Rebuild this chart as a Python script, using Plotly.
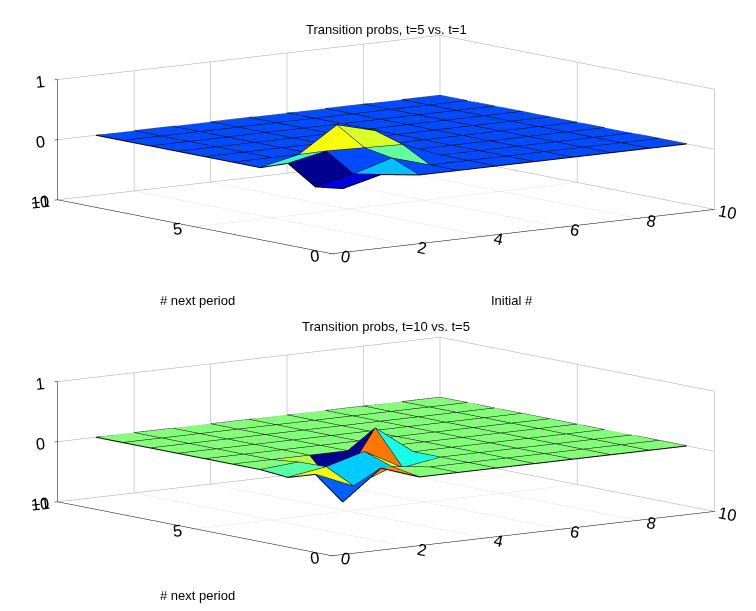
import plotly.graph_objects as go

# grid indices (columns = initial #, rows = # next period)
initial_idx = [1, 2, 3, 4, 5, 6, 7, 8, 9, 10]
next_idx = [1, 2, 3, 4, 5, 6, 7, 8, 9, 10]

# difference in transition probs, t=5 vs t=1 (row = next period, col = initial)
diff_5_1 = [
    [-0.08, 0.08, 0.00, 0.00, 0, 0, 0, 0, 0, 0],
    [-0.14, 0.00, 0.19, 0.00, 0, 0, 0, 0, 0, 0],
    [0.16, 0.29, 0.27, 0.25, 0, 0, 0, 0, 0, 0],
    [0.00, 0.14, 0.56, 0.39, 0, 0, 0, 0, 0, 0],
    [0, 0, 0, 0, 0, 0, 0, 0, 0, 0],
    [0, 0, 0, 0, 0, 0, 0, 0, 0, 0],
    [0, 0, 0, 0, 0, 0, 0, 0, 0, 0],
    [0, 0, 0, 0, 0, 0, 0, 0, 0, 0],
    [0, 0, 0, 0, 0, 0, 0, 0, 0, 0],
    [0, 0, 0, 0, 0, 0, 0, 0, 0, 0],
]

# difference in transition probs, t=10 vs t=5
diff_10_5 = [
    [-0.27, 0.22, 0.00, 0.00, 0, 0, 0, 0, 0, 0],
    [0.10, -0.17, 0.08, 0.00, 0, 0, 0, 0, 0, 0],
    [-0.04, 0.06, 0.24, -0.10, 0, 0, 0, 0, 0, 0],
    [0.00, 0.05, -0.48, 0.47, 0, 0, 0, 0, 0, 0],
    [0, 0, 0, 0, 0, 0, 0, 0, 0, 0],
    [0, 0, 0, 0, 0, 0, 0, 0, 0, 0],
    [0, 0, 0, 0, 0, 0, 0, 0, 0, 0],
    [0, 0, 0, 0, 0, 0, 0, 0, 0, 0],
    [0, 0, 0, 0, 0, 0, 0, 0, 0, 0],
    [0, 0, 0, 0, 0, 0, 0, 0, 0, 0],
]

titles = ["Transition probs, t=5 vs. t=1", "Transition probs, t=10 vs. t=5"]

# matlab jet
jet = [
    [0.0, "rgb(0,0,143)"],
    [0.125, "rgb(0,0,255)"],
    [0.375, "rgb(0,255,255)"],
    [0.625, "rgb(255,255,0)"],
    [0.875, "rgb(255,0,0)"],
    [1.0, "rgb(128,0,0)"],
]


def faceted_surface(x, y, z, scene):
    """flat-coloured quads (two triangles each) + black mesh lines"""
    ny, nx = len(y), len(x)
    vx, vy, vz = [], [], []
    for i in range(ny):
        for j in range(nx):
            vx.append(x[j])
            vy.append(y[i])
            vz.append(z[i][j])
    fi, fj, fk, inten = [], [], [], []
    for i in range(ny - 1):
        for j in range(nx - 1):
            p00 = i * nx + j
            p01 = i * nx + j + 1
            p10 = (i + 1) * nx + j
            p11 = (i + 1) * nx + j + 1
            fi += [p00, p00]
            fj += [p01, p11]
            fk += [p11, p10]
            inten += [z[i][j], z[i][j]]
    flat = [v for row in z for v in row]
    mesh = go.Mesh3d(
        x=vx, y=vy, z=vz, i=fi, j=fj, k=fk,
        intensity=inten, intensitymode="cell",
        colorscale=jet, cmin=min(flat), cmax=max(flat),
        showscale=False, flatshading=True,
        lighting=dict(ambient=1, diffuse=0, specular=0, roughness=1, fresnel=0),
        hoverinfo="skip", scene=scene,
    )
    lx, ly, lz = [], [], []
    for i in range(ny):
        for j in range(nx):
            lx.append(x[j]); ly.append(y[i]); lz.append(z[i][j])
        lx.append(None); ly.append(None); lz.append(None)
    for j in range(nx):
        for i in range(ny):
            lx.append(x[j]); ly.append(y[i]); lz.append(z[i][j])
        lx.append(None); ly.append(None); lz.append(None)
    lines = go.Scatter3d(
        x=lx, y=ly, z=lz, mode="lines",
        line=dict(color="black", width=2),
        hoverinfo="skip", showlegend=False, scene=scene,
    )
    return [mesh, lines]


fig = go.Figure()
for t in faceted_surface(initial_idx, next_idx, diff_5_1, "scene"):
    fig.add_trace(t)
for t in faceted_surface(initial_idx, next_idx, diff_10_5, "scene2"):
    fig.add_trace(t)

font = dict(family="Arial", size=13, color="black")
tick_font = dict(family="Arial", size=14, color="black")


def axis(rng, dtick):
    return dict(
        range=rng, dtick=dtick, title=dict(text=""),
        showbackground=False, showgrid=True, gridcolor="rgb(165,165,165)", gridwidth=1,
        zeroline=False, showline=True, linecolor="black", linewidth=1,
        ticks="outside", tickcolor="black", ticklen=4,
        tickfont=tick_font, showspikes=False,
    )


eye_dir = (-0.602, -0.784, 0.151)
eye_r = 8.0
camera = dict(
    eye=dict(x=eye_dir[0] * eye_r, y=eye_dir[1] * eye_r, z=eye_dir[2] * eye_r),
    up=dict(x=0, y=0, z=1),
    center=dict(x=0, y=0, z=0),
    projection=dict(type="orthographic"),
)

box_scale = 3.3
scene_common = dict(
    xaxis=axis([0, 10], 2),
    yaxis=axis([0, 10], 5),
    zaxis=axis([-1, 1], 1),
    aspectmode="manual",
    aspectratio=dict(x=1.07 * box_scale, y=1.0 * box_scale, z=0.27 * box_scale),
    camera=camera,
)

fig.update_layout(
    width=756, height=611,
    margin=dict(l=0, r=0, t=0, b=0),
    paper_bgcolor="white",
    showlegend=False,
    font=font,
    scene=dict(domain=dict(x=[0, 1], y=[0.553, 1.0]), **scene_common),
    scene2=dict(domain=dict(x=[0, 1], y=[0.058, 0.505]), **scene_common),
    annotations=[
        dict(text=titles[0], x=0.5, y=1 - 12 / 611, xref="paper", yref="paper",
             showarrow=False, font=font),
        dict(text=titles[1], x=0.5, y=1 - 318 / 611, xref="paper", yref="paper",
             showarrow=False, font=font),
        dict(text="# next period", x=150 / 756, y=1 - 292 / 611, xref="paper", yref="paper",
             showarrow=False, font=font),
        dict(text="Initial #", x=527 / 756, y=1 - 292 / 611, xref="paper", yref="paper",
             showarrow=False, font=font),
        dict(text="# next period", x=150 / 756, y=1 - 597 / 611, xref="paper", yref="paper",
             showarrow=False, font=font),
    ],
)

fig.write_html("out.html")
